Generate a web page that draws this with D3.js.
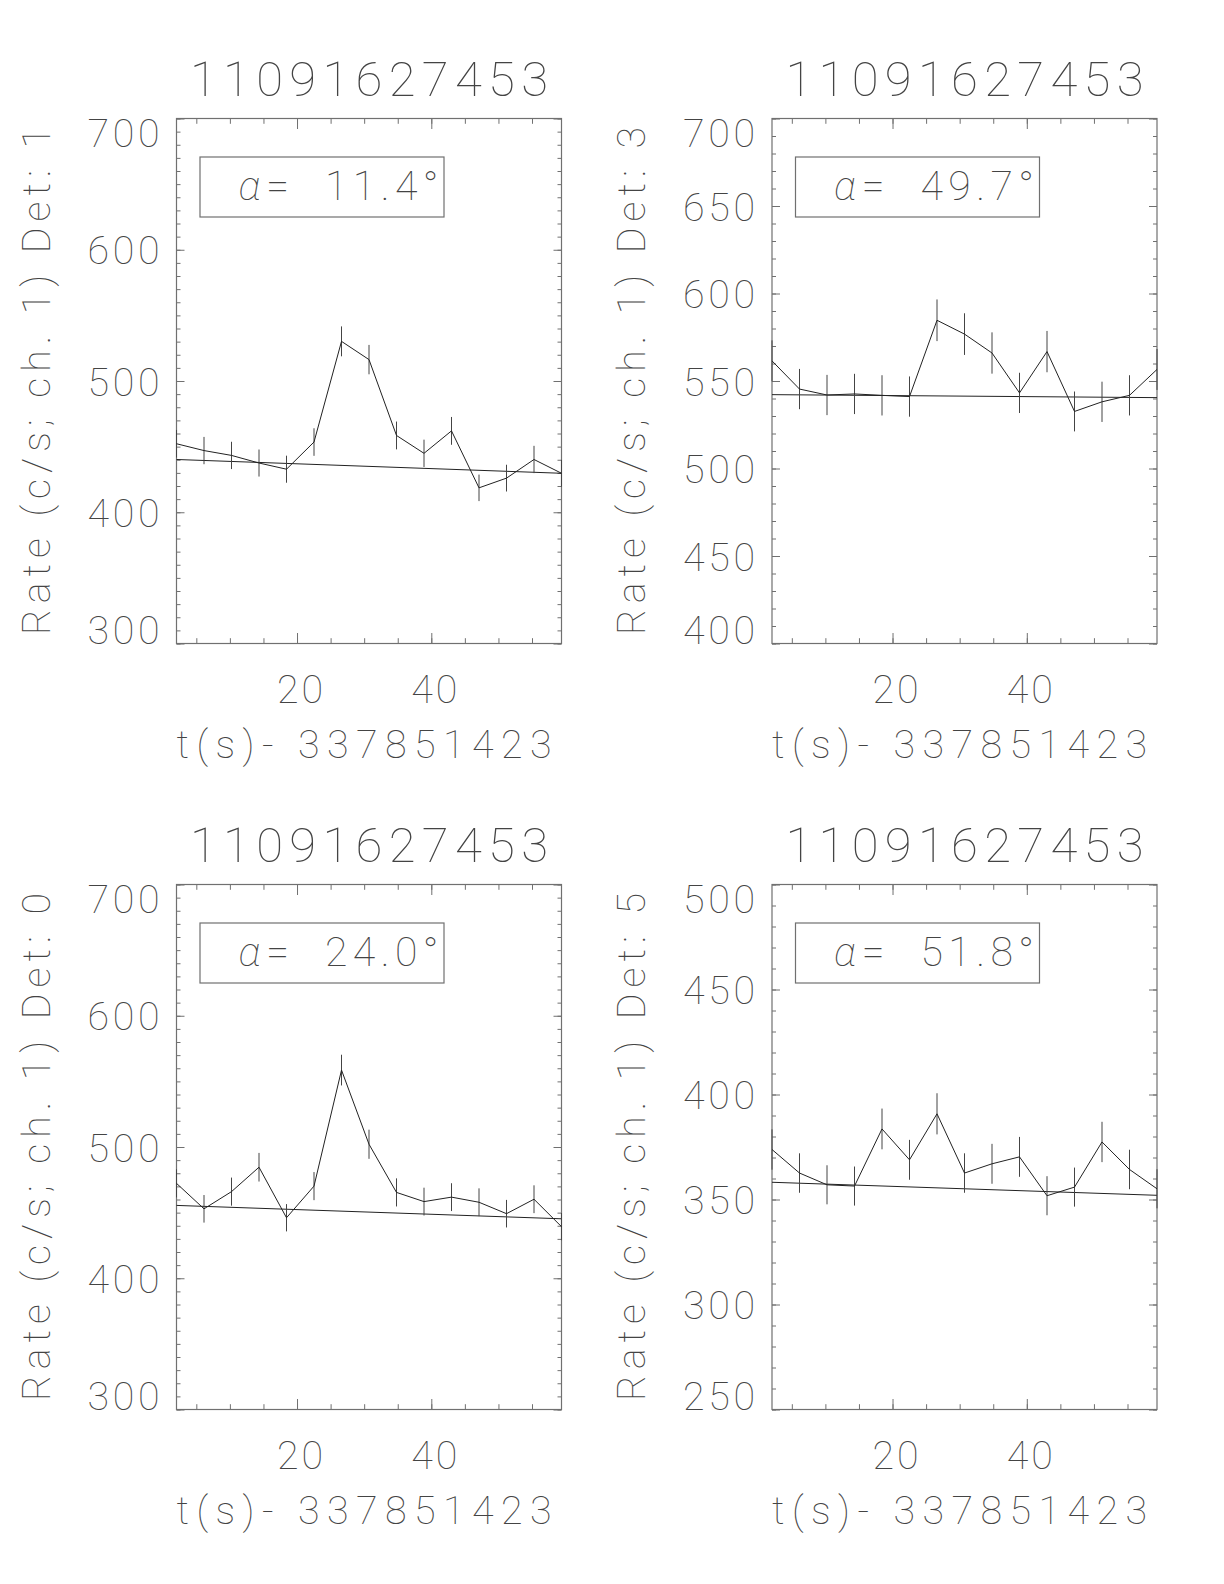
<!DOCTYPE html>
<html><head><meta charset="utf-8">
<script src="https://cdn.jsdelivr.net/npm/d3@7"></script>
<style>
body{margin:0;background:#fff}
svg text{font-family:Roboto,"Open Sans","DejaVu Sans",sans-serif;font-weight:100;fill:#444}
</style></head><body>
<svg id="c" width="1224" height="1584" xmlns="http://www.w3.org/2000/svg"></svg>
<script>
// ---- data ----
const times = [2.048, 6.144, 10.24, 14.336, 18.432, 22.528, 26.624, 30.72, 34.816, 38.912, 43.008, 47.104, 51.2, 55.296, 59.392];
const xMajorTicks = [20, 40];
const xMinorTicks = [5, 10, 15, 20, 25, 30, 35, 40, 45, 50, 55];
const titles = ["11091627453", "11091627453", "11091627453", "11091627453"];
const detectors = ["1", "3", "0", "5"];
const alphaLabels = ["11.4", "49.7", "24.0", "51.8"];
const xAxisLabel = "t(s)- 337851423";

const yTicks1 = [300, 400, 500, 600, 700];
const yTicks2 = [400, 450, 500, 550, 600, 650, 700];
const yTicks3 = [300, 400, 500, 600, 700];
const yTicks4 = [250, 300, 350, 400, 450, 500];

const rates1 = [452.2, 447.0, 443.3, 437.5, 432.8, 453.5, 530.2, 516.3, 458.5, 444.9, 462.0, 418.6, 426.0, 440.2, 429.7];
const errs1  = [10.5, 10.4, 10.4, 10.3, 10.3, 10.5, 11.4, 11.2, 10.6, 10.4, 10.6, 10.1, 10.2, 10.4, 10.2];
const fit1   = [440.2, 429.7];

const rates2 = [561.5, 545.4, 542.0, 542.6, 541.8, 541.1, 584.7, 576.8, 566.0, 543.2, 566.8, 532.6, 538.1, 541.8, 556.6];
const errs2  = [11.7, 11.5, 11.5, 11.5, 11.5, 11.5, 11.9, 11.9, 11.8, 11.5, 11.8, 11.4, 11.5, 11.5, 11.7];
const fit2   = [542.2, 540.5];

const rates3 = [472.3, 452.9, 466.0, 484.6, 446.1, 470.2, 558.6, 502.1, 465.4, 458.4, 461.8, 457.9, 449.2, 460.2, 439.3];
const errs3  = [10.7, 10.5, 10.7, 10.9, 10.4, 10.7, 11.7, 11.1, 10.7, 10.6, 10.6, 10.6, 10.5, 10.6, 10.4];
const fit3   = [455.5, 445.3];

const rates4 = [373.8, 362.6, 357.0, 356.4, 383.6, 368.9, 390.8, 362.6, 367.0, 370.3, 351.8, 355.9, 377.4, 364.3, 355.1];
const errs4  = [9.6, 9.4, 9.3, 9.3, 9.7, 9.5, 9.8, 9.4, 9.5, 9.5, 9.3, 9.3, 9.6, 9.4, 9.3];
const fit4   = [358.2, 352.0];

// ---- layout ----
const W = 385, H = 525;
const panelOrigins = [[176.5, 118.5], [772, 118.5], [176.5, 884.5], [772, 884.5]];
const panels = [
  {rates: rates1, errs: errs1, fit: fit1, yTicks: yTicks1, minor: 10},
  {rates: rates2, errs: errs2, fit: fit2, yTicks: yTicks2, minor: 10},
  {rates: rates3, errs: errs3, fit: fit3, yTicks: yTicks3, minor: 10},
  {rates: rates4, errs: errs4, fit: fit4, yTicks: yTicks4, minor: 10}
];

const svg = d3.select("#c");
const frameColor = "#707070", lineColor = "#222", textColor = "#404040";

panels.forEach((p, i) => {
  const [ox, oy] = panelOrigins[i];
  const g = svg.append("g").attr("transform", `translate(${ox},${oy})`);
  const x = d3.scaleLinear().domain([times[0], times[times.length - 1]]).range([0, W]);
  const yDom = d3.extent(p.yTicks);
  const y = d3.scaleLinear().domain(yDom).range([H, 0]);
  const yMinor = d3.range(yDom[0], yDom[1] + 0.001, p.minor);

  const styleAxis = sel => {
    sel.select(".domain").remove();
    sel.selectAll(".tick line").attr("stroke", frameColor).attr("stroke-width", 1);
  };

  // x minor ticks (bottom/top)
  g.append("g").attr("transform", `translate(0,${H})`)
    .call(d3.axisBottom(x).tickValues(xMinorTicks).tickSize(-5.3).tickFormat("")).call(styleAxis);
  g.append("g")
    .call(d3.axisTop(x).tickValues(xMinorTicks).tickSize(-5.3).tickFormat("")).call(styleAxis);
  // x major ticks with labels
  const xb = g.append("g").attr("transform", `translate(0,${H})`)
    .call(d3.axisBottom(x).tickValues(xMajorTicks).tickSize(-10.5).tickPadding(32).tickFormat(d3.format("d")))
    .call(styleAxis);
  xb.selectAll("text").attr("font-size", 39.4).attr("letter-spacing", 3).attr("fill", textColor)
    .attr("font-family", null).attr("dx", 4);
  g.append("g")
    .call(d3.axisTop(x).tickValues(xMajorTicks).tickSize(-10.5).tickFormat("")).call(styleAxis);

  // y minor ticks
  g.append("g").call(d3.axisLeft(y).tickValues(yMinor).tickSize(-4).tickFormat("")).call(styleAxis);
  g.append("g").attr("transform", `translate(${W},0)`)
    .call(d3.axisRight(y).tickValues(yMinor).tickSize(-4).tickFormat("")).call(styleAxis);
  // y major ticks with labels
  const yl = g.append("g")
    .call(d3.axisLeft(y).tickValues(p.yTicks).tickSize(-8).tickPadding(17).tickFormat(d3.format("d")))
    .call(styleAxis);
  yl.selectAll("text").attr("font-size", 39.4).attr("fill", textColor)
    .attr("font-family", null)
    .attr("textLength", 72).attr("lengthAdjust", "spacing")
    .attr("dy", d => d === yDom[1] ? "0.72em" : (d === yDom[0] ? "0em" : "0.36em"));
  g.append("g").attr("transform", `translate(${W},0)`)
    .call(d3.axisRight(y).tickValues(p.yTicks).tickSize(-8).tickFormat("")).call(styleAxis);

  // frame
  g.append("rect").attr("width", W).attr("height", H)
    .attr("fill", "none").attr("stroke", frameColor).attr("stroke-width", 1.2);

  // fitted background line
  g.append("line")
    .attr("x1", x(times[0])).attr("x2", x(times[times.length - 1]))
    .attr("y1", y(p.fit[0])).attr("y2", y(p.fit[1]))
    .attr("stroke", lineColor).attr("stroke-width", 1);

  // error bars
  g.append("g").selectAll("line").data(times).join("line")
    .attr("x1", d => x(d)).attr("x2", d => x(d))
    .attr("y1", (d, k) => y(p.rates[k] - p.errs[k]))
    .attr("y2", (d, k) => y(p.rates[k] + p.errs[k]))
    .attr("stroke", "#444").attr("stroke-width", 1);

  // data line
  g.append("path")
    .attr("d", d3.line().x((d, k) => x(times[k])).y(d => y(d))(p.rates))
    .attr("fill", "none").attr("stroke", lineColor).attr("stroke-width", 1);

  // alpha box
  g.append("rect").attr("x", 23.5).attr("y", 38.5).attr("width", 244).attr("height", 60)
    .attr("fill", "none").attr("stroke", frameColor).attr("stroke-width", 1.2);
  const at = g.append("text").attr("x", 62).attr("y", 81).attr("font-size", 41)
    .attr("fill", textColor)
    .attr("textLength", 200).attr("lengthAdjust", "spacing").style("white-space", "pre");
  at.append("tspan").attr("font-style", "italic").text("α");
  at.append("tspan").text("=  " + alphaLabels[i] + "°");

  // title
  g.append("text").attr("x", W / 2).attr("y", -23).attr("text-anchor", "middle")
    .attr("font-size", 49).attr("fill", textColor)
    .attr("textLength", 358).attr("lengthAdjust", "spacing").text(titles[i]);

  // x axis label
  g.append("text").attr("x", W / 2 - 5).attr("y", H + 114).attr("text-anchor", "middle")
    .attr("font-size", 39.4).attr("fill", textColor)
    .attr("textLength", 375).attr("lengthAdjust", "spacing")
    .style("white-space", "pre").text(xAxisLabel);

  // y axis label
  g.append("text").attr("transform", `translate(${-127},${H / 2}) rotate(-90)`)
    .attr("text-anchor", "middle").attr("font-size", 39.4).attr("fill", textColor)
    .attr("textLength", 508).attr("lengthAdjust", "spacing")
    .style("white-space", "pre")
    .text("Rate (c/s; ch. 1) Det: " + detectors[i]);
});
</script>
</body></html>
